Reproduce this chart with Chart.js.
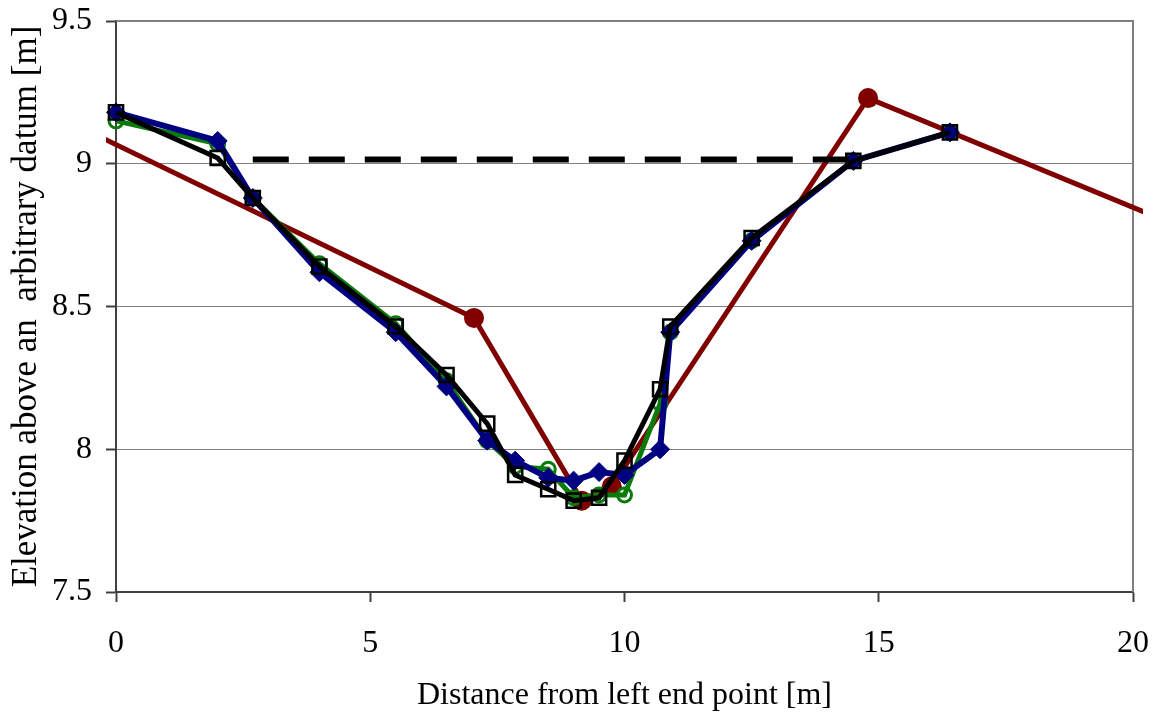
<!DOCTYPE html>
<html>
<head>
<meta charset="utf-8">
<script src="https://cdn.jsdelivr.net/npm/chart.js@4/dist/chart.umd.min.js"></script>
<style>
  html, body { margin: 0; padding: 0; background: #fff; }
  canvas { display: block; }
</style>
</head>
<body>
<canvas id="profileChart" width="1156" height="717"></canvas>
<script>
// cross-section data (distance in m, elevation in m)
const dist = [0, 2, 2.69, 4, 5.5, 6.5, 7.3, 7.85, 8.5, 9, 9.5, 10, 10.7, 10.9, 12.5, 14.5, 16.4];
const elevBlue  = [9.18, 9.08, 8.88, 8.62, 8.41, 8.22, 8.03, 7.96, 7.90, 7.89, 7.92, 7.91, 8.00, 8.41, 8.73, 9.01, 9.11];
const elevGreen = [9.15, 9.07, 8.88, 8.65, 8.44, 8.24, 8.03, 7.94, 7.93, 7.83, 7.84, 7.84, 8.16, 8.41, 8.73, 9.01, 9.11];
const elevBlack = [9.18, 9.02, 8.88, 8.64, 8.43, 8.26, 8.09, 7.91, 7.86, 7.82, 7.83, 7.96, 8.21, 8.43, 8.74, 9.01, 9.11];

// coarse profile, runs off both sides of the plot
const redDist = [-2, 7.04, 9.16, 9.75, 14.79, 22];
const redElev = [9.24, 8.46, 7.82, 7.87, 9.23, 8.70];

// water level
const waterDist = [2.69, 14.5];
const waterElev = [9.015, 9.015];

const xTicks = { min: 0, max: 20, step: 5 };
const yTicks = { min: 7.5, max: 9.5, step: 0.5 };

const pts = (xs, ys) => xs.map((x, i) => ({ x: x, y: ys[i] }));

const serif = "'Liberation Serif', 'DejaVu Serif', serif";
const font = { family: serif, size: 32 };

// gray frame on top and right of plot area
const framePlugin = {
    id: "frame",
    beforeDatasetsDraw(chart) {
        const a = chart.chartArea;
        const ctx = chart.ctx;
        ctx.save();
        ctx.strokeStyle = "#808080";
        ctx.lineWidth = 2;
        ctx.beginPath();
        ctx.moveTo(a.left, a.top);
        ctx.lineTo(a.right, a.top);
        ctx.lineTo(a.right, a.bottom);
        ctx.stroke();
        ctx.restore();
    }
};

new Chart(document.getElementById("profileChart").getContext("2d"), {
    type: "scatter",
    data: {
        datasets: [
            {
                label: "Profile C",
                data: pts(dist, elevBlack),
                showLine: true,
                borderColor: "#000000",
                borderWidth: 5,
                pointStyle: "rect",
                pointRadius: 10,
                pointBorderWidth: 2.5,
                pointBorderColor: "#000000",
                pointBackgroundColor: "rgba(0,0,0,0)",
                clip: false,
                order: 0
            },
            {
                label: "Water level",
                data: pts(waterDist, waterElev),
                showLine: true,
                borderColor: "#000000",
                borderWidth: 6,
                borderDash: [36, 20],
                borderCapStyle: "butt",
                pointRadius: 0,
                clip: false,
                order: 1
            },
            {
                label: "Profile A",
                data: pts(dist, elevBlue),
                showLine: true,
                borderColor: "#000080",
                borderWidth: 6,
                pointStyle: "rectRot",
                pointRadius: 9.5,
                pointBorderWidth: 1,
                pointBorderColor: "#000080",
                pointBackgroundColor: "#000080",
                clip: false,
                order: 2
            },
            {
                label: "Profile B",
                data: pts(dist, elevGreen),
                showLine: true,
                borderColor: "#0a7a0a",
                borderWidth: 5,
                pointStyle: "circle",
                pointRadius: 7,
                pointBorderWidth: 3,
                pointBorderColor: "#0a7a0a",
                pointBackgroundColor: "rgba(0,0,0,0)",
                clip: false,
                order: 3
            },
            {
                label: "Coarse profile",
                data: pts(redDist, redElev),
                showLine: true,
                borderColor: "#800000",
                borderWidth: 5,
                pointStyle: "circle",
                pointRadius: 10,
                pointBorderWidth: 0,
                pointBackgroundColor: "#800000",
                clip: 10,
                order: 4
            }
        ]
    },
    options: {
        responsive: false,
        animation: false,
        events: [],
        layout: { padding: { top: 21, right: 23, left: 0, bottom: 0 } },
        plugins: {
            legend: { display: false },
            tooltip: { enabled: false }
        },
        scales: {
            x: {
                type: "linear",
                min: xTicks.min,
                max: xTicks.max,
                ticks: { stepSize: xTicks.step, color: "#000", font: font, padding: 22, maxRotation: 0 },
                grid: { drawOnChartArea: false, tickLength: 10, tickColor: "#404040", tickWidth: 2 },
                border: { color: "#404040", width: 2 },
                title: {
                    display: true,
                    text: "Distance from left end point [m]",
                    color: "#000",
                    font: font,
                    padding: { top: 2, bottom: 2 }
                },
                afterFit: (s) => {
                    s.height = 125;
                    s.paddingLeft = 0;
                    s.paddingRight = 0;
                }
            },
            y: {
                type: "linear",
                min: yTicks.min,
                max: yTicks.max,
                ticks: {
                    stepSize: yTicks.step,
                    color: "#000",
                    font: font,
                    padding: 14,
                    callback: (v) => String(v)
                },
                grid: { color: "#808080", lineWidth: 1, tickLength: 10, tickColor: "#404040", tickWidth: 2 },
                border: { color: "#404040", width: 2 },
                title: {
                    display: true,
                    text: "Elevation above an  arbitrary datum [m]",
                    color: "#000",
                    font: { family: serif, size: 35 },
                    padding: { top: 6, bottom: 6 }
                },
                afterFit: (s) => {
                    s.width = 116;
                    s.paddingTop = 0;
                    s.paddingBottom = 0;
                }
            }
        }
    },
    plugins: [framePlugin]
});
</script>
</body>
</html>
